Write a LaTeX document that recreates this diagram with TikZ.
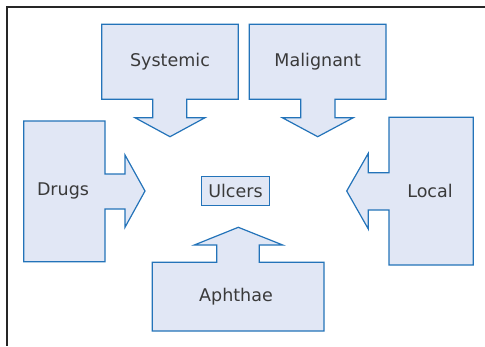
\documentclass[tikz,border=0pt]{standalone}
\usepackage{fontspec}
\setmainfont{DejaVu Sans}
\definecolor{boxfill}{HTML}{E1E7F5}
\definecolor{boxline}{HTML}{2373B9}
\definecolor{txt}{HTML}{3A3A3A}

\begin{document}
\begin{tikzpicture}[x=1pt, y=-1pt,
    block/.style={fill=boxfill, draw=boxline, line width=1.2pt, line join=miter},
    lbl/.style={text=txt, font=\fontsize{17.5}{20}\selectfont, inner sep=0pt}]
    \useasboundingbox (0,0) rectangle (485,346);
    % frame
    \draw[line width=1.5pt, black!85] (485,7) -- (7,7) -- (7,346);
    % block arrows
    \draw[block] (101.7,24.3) -- (238.3,24.3) -- (238.3,99.3) -- (186.7,99.3) -- (186.7,117.7)
        -- (205,117.7) -- (170,136.7) -- (135,117.7) -- (152.7,117.7) -- (152.7,99.3) -- (101.7,99.3) -- cycle;
    \draw[block] (249.3,24.3) -- (386,24.3) -- (386,99.3) -- (335,99.3) -- (335,117.7)
        -- (353.3,117.7) -- (317.7,136.7) -- (282.3,117.7) -- (300.7,117.7) -- (300.7,99.3) -- (249.3,99.3) -- cycle;
    \draw[block] (23.7,121) -- (105,121) -- (105,174) -- (125,174) -- (125,155) -- (145,191)
        -- (125,227.3) -- (125,209) -- (105,209) -- (105,261.7) -- (23.7,261.7) -- cycle;
    \draw[block] (473.3,117.3) -- (389,117.3) -- (389,172.7) -- (368.3,172.7) -- (368.3,153.3) -- (346.7,191)
        -- (368.3,229) -- (368.3,210) -- (389,210) -- (389,265) -- (473.3,265) -- cycle;
    \draw[block] (152.3,331) -- (152.3,262.3) -- (216.7,262.3) -- (216.7,245) -- (194.3,245) -- (238.3,227.3)
        -- (282.7,245) -- (259.3,245) -- (259.3,262.3) -- (324,262.3) -- (324,331) -- cycle;
    % labels
    \node[lbl] (systemic) at (170,61.8) {Systemic};
    \node[lbl] (malignant) at (317.7,61.8) {Malignant};
    \node[lbl] (drugs) at (63,191) {Drugs};
    \node[lbl] (local) at (430,191) {Local};
    \node[lbl] (aphthae) at (236,296.7) {Aphthae};
    \node[block, lbl, minimum width=67.6pt, minimum height=28.6pt] (ulcers) at (235.5,191) {Ulcers};
\end{tikzpicture}
\end{document}
